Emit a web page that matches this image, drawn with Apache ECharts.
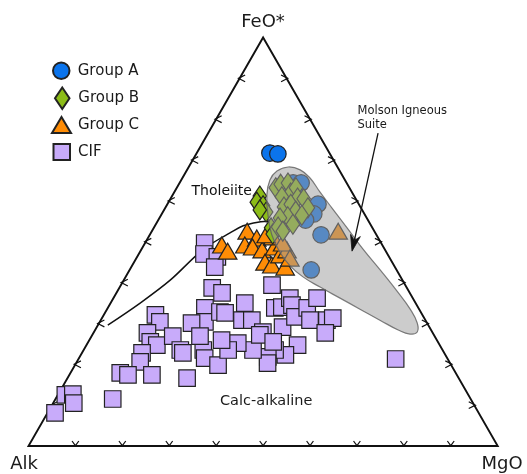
<!DOCTYPE html>
<html>
<head>
<meta charset="utf-8">
<script src="https://cdn.jsdelivr.net/npm/echarts@6/dist/echarts.min.js"></script>
<style>
  html, body { margin: 0; padding: 0; background: #fff; }
  #chart { width: 527px; height: 474px; }
</style>
</head>
<body>
<div id="chart"></div>
<script>
// AFM ternary diagram. Every point is [FeO*, Alk, MgO] in wt% (normalised to 100).
const groupA = [
  [71.7, 12.7, 15.6], [71.5, 11.1, 17.4], [64.4, 11.4, 24.2], [64.4, 9.7, 25.9],
  [59.2, 8.7, 32.1], [56.8, 10.8, 32.4], [55.3, 13.3, 31.4], [51.7, 11.8, 36.5],
  [43.1, 18.2, 38.7], [61.2, 12.2, 26.6]
];
const groupB = [
  [61.2, 20.1, 18.7], [59.7, 21.5, 18.8], [58.8, 20.6, 20.6], [57.3, 20.7, 22.0],
  [57.8, 21.8, 20.4], [53.4, 21.6, 25.0], [51.9, 22.0, 26.1], [63.2, 15.7, 21.1],
  [64.1, 14.2, 21.7], [64.4, 12.5, 23.1], [61.9, 13.2, 24.9], [61.0, 15.5, 23.5],
  [63.2, 11.4, 25.4], [60.7, 12.3, 27.0], [58.5, 16.3, 25.2], [59.2, 14.5, 26.3],
  [60.5, 11.1, 28.4], [57.5, 14.3, 28.2], [58.3, 11.3, 30.4], [56.1, 16.7, 27.2],
  [55.8, 18.5, 25.7], [56.5, 13.5, 30.0], [54.3, 16.5, 29.2], [53.6, 20.0, 26.4],
  [52.6, 19.5, 27.9]
];
const groupC = [
  [49.2, 34.2, 16.6], [47.7, 33.7, 18.6], [52.6, 27.1, 20.3], [49.2, 29.3, 21.5],
  [50.9, 25.9, 23.2], [48.7, 27.9, 23.4], [48.0, 26.2, 25.8], [45.0, 27.1, 27.9],
  [44.3, 26.0, 29.7], [48.7, 23.2, 28.1], [51.2, 22.3, 26.5], [51.7, 23.5, 24.8],
  [43.8, 23.4, 32.8], [46.8, 23.0, 30.2], [52.6, 7.7, 39.7], [48.0, 20.9, 31.1],
  [49.7, 21.0, 29.3], [46.0, 21.3, 32.7]
];
const cif = [
  [49.7, 37.6, 12.7], [47.0, 39.1, 13.9], [46.3, 36.6, 17.1], [43.8, 38.4, 17.8],
  [38.7, 41.5, 19.8], [37.5, 40.0, 22.5], [33.8, 45.5, 20.7], [30.4, 47.2, 22.4],
  [30.1, 50.2, 19.7], [32.8, 42.8, 24.4], [32.6, 41.8, 25.6], [32.1, 56.9, 11.0],
  [30.4, 56.8, 12.8], [27.7, 60.8, 11.5], [25.5, 61.3, 13.2], [24.7, 60.3, 15.0],
  [26.9, 55.8, 17.3], [23.5, 55.9, 20.6], [22.8, 55.7, 21.5], [22.8, 64.4, 12.8],
  [20.6, 65.9, 13.5], [23.5, 51.0, 25.5], [21.5, 51.7, 26.8], [19.8, 49.7, 30.5],
  [17.9, 71.5, 10.6], [17.4, 70.1, 12.5], [17.4, 65.0, 17.6], [16.6, 57.9, 25.5],
  [11.5, 76.3, 12.2], [12.5, 85.9, 1.6], [12.7, 84.2, 3.1], [10.5, 85.1, 4.4],
  [8.1, 90.3, 1.6], [39.4, 28.4, 32.2], [35.0, 36.4, 28.6], [30.8, 39.1, 30.1],
  [30.8, 37.0, 32.2], [27.9, 36.1, 36.0], [33.8, 30.6, 35.6], [34.0, 29.0, 37.0],
  [36.2, 26.2, 37.6], [34.5, 26.6, 38.9], [29.1, 31.3, 39.6], [31.6, 27.4, 41.0],
  [33.8, 23.7, 42.5], [36.2, 20.4, 43.4], [30.8, 24.6, 44.6], [30.8, 21.0, 48.2],
  [31.3, 19.5, 49.2], [27.7, 22.9, 49.4], [24.7, 30.3, 45.0], [22.3, 34.1, 43.6],
  [23.5, 35.7, 40.8], [21.8, 38.1, 40.1], [20.3, 38.9, 40.8], [23.5, 40.4, 36.1],
  [25.2, 42.8, 32.0], [23.5, 45.7, 30.8], [27.2, 37.1, 35.7], [25.5, 35.1, 39.4],
  [21.3, 11.1, 67.6], [25.9, 45.9, 28.2], [26.9, 50.0, 23.1]
];

// Tholeiitic / calc-alkaline dividing curve
const boundary = [
  [29.6, 68.3, 2.1], [35.0, 58.7, 6.3], [40.6, 49.5, 9.9], [46.8, 40.7, 12.5],
  [49.7, 35.9, 14.4], [52.1, 31.1, 16.8], [53.9, 27.3, 18.8], [54.8, 23.7, 21.5],
  [55.1, 20.5, 24.4]
];

// Outline of the Molson Igneous Suite field
const molsonField = [
  [67.3, 13.4, 19.3], [68.3, 10.5, 21.2], [67.6, 8.3, 24.1], [65.6, 7.2, 27.2],
  [62.2, 6.8, 31.0], [58.3, 6.2, 35.5], [53.4, 5.4, 41.2], [48.2, 4.6, 47.2],
  [43.1, 3.5, 53.4], [37.9, 2.5, 59.6], [33.5, 1.9, 64.6], [30.1, 2.1, 67.8],
  [27.9, 3.2, 68.9], [27.4, 5.0, 67.6], [28.4, 7.0, 64.6], [30.8, 9.7, 59.5],
  [33.5, 12.6, 53.9], [36.2, 15.5, 48.3], [38.9, 18.4, 42.7], [41.4, 20.8, 37.8],
  [44.1, 22.2, 33.7], [47.5, 22.7, 29.8], [51.7, 22.3, 26.0], [56.5, 20.7, 22.8],
  [61.4, 18.5, 20.1], [65.1, 16.0, 18.9]
];

// Leader arrow for the field label: [start, tip]
const molsonArrow = [[76.6, -12.8, 36.2], [47.7, 7.2, 45.1]];

const tickLevels = [10, 20, 30, 40, 50, 60, 70, 80, 90];

const FONT = '"DejaVu Sans", "Liberation Sans", sans-serif';
const H = Math.sqrt(3) / 2;

// [FeO*, Alk, MgO] -> cartesian: Alk at left corner, MgO at right, FeO* at apex
function toXY(p) {
  const f = p[0], m = p[2];
  return [(m + f / 2) / 100, (f / 100) * H];
}

const chart = echarts.init(document.getElementById('chart'), null, { renderer: 'canvas' });

function frameRender(params, api) {
  const c = p => api.coord(toXY(p));
  const children = [];
  const corners = [c([0, 100, 0]), c([0, 0, 100]), c([100, 0, 0])];
  children.push({
    type: 'polygon',
    shape: { points: corners },
    style: { fill: 'none', stroke: '#111', lineWidth: 1.9, lineJoin: 'miter' }
  });
  const tickStyle = { fill: 'none', stroke: '#111', lineWidth: 1.2 };
  tickLevels.forEach(t => {
    // bottom edge (Alk–MgO)
    const b = c([0, 100 - t, t]);
    children.push({ type: 'polyline', shape: { points: [[b[0] - 3.4, b[1] - 5], [b[0], b[1] - 0.3], [b[0] + 3.4, b[1] - 5]] }, style: tickStyle });
    // left edge (Alk–FeO*)
    const l = c([t, 100 - t, 0]);
    children.push({ type: 'polyline', shape: { points: [[l[0] + 5.5, l[1] - 3.4], [l[0] - 1.2, l[1]], [l[0] + 5.5, l[1] + 3.4]] }, style: tickStyle });
    // right edge (MgO–FeO*)
    const r = c([t, 0, 100 - t]);
    children.push({ type: 'polyline', shape: { points: [[r[0] - 5.5, r[1] - 3.4], [r[0] + 1.2, r[1]], [r[0] - 5.5, r[1] + 3.4]] }, style: tickStyle });
  });
  // dividing curve
  children.push({
    type: 'polyline',
    shape: { points: boundary.map(c), smooth: 0.35 },
    style: { fill: 'none', stroke: '#111', lineWidth: 1.5 }
  });
  return { type: 'group', children };
}

function fieldRender(params, api) {
  const c = p => api.coord(toXY(p));
  return {
    type: 'polygon',
    shape: { points: molsonField.map(c), smooth: 0.45 },
    style: { fill: 'rgba(158,158,158,0.52)', stroke: 'rgba(95,95,95,0.8)', lineWidth: 1.2 }
  };
}

function arrowRender(params, api) {
  const s = api.coord(toXY(molsonArrow[0]));
  const t = api.coord(toXY(molsonArrow[1]));
  const dx = t[0] - s[0], dy = t[1] - s[1];
  const len = Math.sqrt(dx * dx + dy * dy);
  const ux = dx / len, uy = dy / len, nx = -uy, ny = ux;
  const headLen = 16, headW = 5, notch = 11;
  const back = k => [t[0] - ux * k, t[1] - uy * k];
  const b1 = back(headLen), bn = back(notch);
  return {
    type: 'group',
    children: [
      { type: 'line', shape: { x1: s[0], y1: s[1], x2: bn[0], y2: bn[1] }, style: { stroke: '#111', lineWidth: 1.3 } },
      { type: 'polygon', shape: { points: [t, [b1[0] + nx * headW, b1[1] + ny * headW], bn, [b1[0] - nx * headW, b1[1] - ny * headW]] }, style: { fill: '#111', stroke: '#111', lineWidth: 0.8 } }
    ]
  };
}

const markerBorder = { borderColor: '#222', borderWidth: 1.2 };
const legendText = (padBottom, padLeft) => ({
  fontFamily: FONT, fontSize: 15, color: '#1a1a1a', padding: [0, 0, padBottom, padLeft]
});

const option = {
  animation: false,
  grid: { left: 28.5, right: 29.3, top: 37.5, bottom: 28 },
  xAxis: { type: 'value', min: 0, max: 1, show: false },
  yAxis: { type: 'value', min: 0, max: H, show: false },
  legend: [
    { data: ['Group A'], left: 47, top: 56.5, itemWidth: 17, itemHeight: 16.5, selectedMode: false, textStyle: legendText(0, 3) },
    { data: ['Group B'], left: 49, top: 81.5, itemWidth: 14.5, itemHeight: 21.5, selectedMode: false, textStyle: legendText(6, 3.8) },
    { data: ['Group C'], left: 46, top: 111, itemWidth: 19, itemHeight: 16, selectedMode: false, textStyle: legendText(4.5, 2) },
    { data: ['CIF'], left: 47.5, top: 138, itemWidth: 16.5, itemHeight: 16, selectedMode: false, textStyle: legendText(1.5, 3) }
  ],
  graphic: [
    { type: 'text', x: 263, y: 22, silent: true, style: { text: 'FeO*', font: '18px ' + FONT, fill: '#1a1a1a', align: 'center', verticalAlign: 'middle' } },
    { type: 'text', x: 24, y: 464.5, silent: true, style: { text: 'Alk', font: '18px ' + FONT, fill: '#1a1a1a', align: 'center', verticalAlign: 'middle' } },
    { type: 'text', x: 502, y: 464.5, silent: true, style: { text: 'MgO', font: '18px ' + FONT, fill: '#1a1a1a', align: 'center', verticalAlign: 'middle' } },
    { type: 'text', x: 191.5, y: 191, silent: true, style: { text: 'Tholeiite', font: '14px ' + FONT, fill: '#111', align: 'left', verticalAlign: 'middle' } },
    { type: 'text', x: 220, y: 401.5, silent: true, style: { text: 'Calc-alkaline', font: '14.5px ' + FONT, fill: '#1a1a1a', align: 'left', verticalAlign: 'middle' } },
    { type: 'text', x: 357.5, y: 111, silent: true, style: { text: 'Molson Igneous', font: '11.5px ' + FONT, fill: '#1a1a1a', align: 'left', verticalAlign: 'middle' } },
    { type: 'text', x: 357.5, y: 125.5, silent: true, style: { text: 'Suite', font: '11.5px ' + FONT, fill: '#1a1a1a', align: 'left', verticalAlign: 'middle' } }
  ],
  series: [
    { type: 'custom', name: 'frame', z: 1, silent: true, clip: false, renderItem: frameRender, data: [[0, 0]] },
    {
      type: 'scatter', name: 'CIF', z: 2, silent: true, symbol: 'rect', symbolSize: 16.5,
      itemStyle: Object.assign({ color: '#c8abfa', opacity: 1 }, markerBorder),
      data: cif.map(toXY)
    },
    {
      type: 'scatter', name: 'Group C', z: 3, silent: true, symbol: 'triangle', symbolSize: [18.5, 16],
      itemStyle: Object.assign({ color: '#ff8c05', opacity: 1 }, markerBorder),
      data: groupC.map(toXY)
    },
    {
      type: 'scatter', name: 'Group A', z: 4, silent: true, symbol: 'circle', symbolSize: 16.5,
      itemStyle: Object.assign({ color: '#0b74ec', opacity: 1 }, markerBorder),
      data: groupA.map(toXY)
    },
    {
      type: 'scatter', name: 'Group B', z: 5, silent: true, symbol: 'diamond', symbolSize: [13.5, 20],
      itemStyle: Object.assign({ color: '#8cbc18', opacity: 1 }, markerBorder),
      data: groupB.map(toXY)
    },
    { type: 'custom', name: 'Molson field', z: 6, silent: true, clip: false, renderItem: fieldRender, data: [[0, 0]] },
    { type: 'custom', name: 'Molson arrow', z: 7, silent: true, clip: false, renderItem: arrowRender, data: [[0, 0]] }
  ]
};

chart.setOption(option);
</script>
</body>
</html>
